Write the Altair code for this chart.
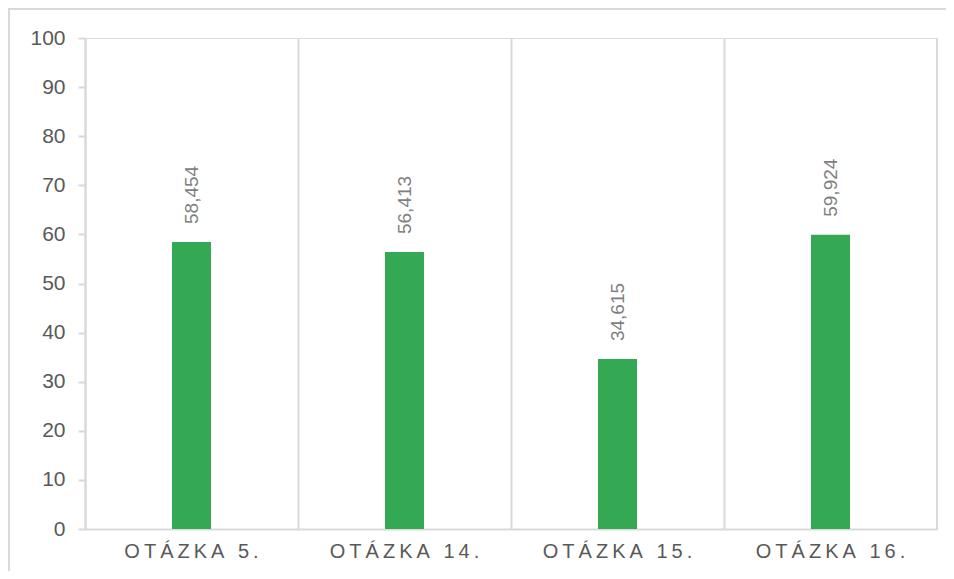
import altair as alt
import pandas as pd

categories = ["OTÁZKA 5.", "OTÁZKA 14.", "OTÁZKA 15.", "OTÁZKA 16."]
values = [58.454, 56.413, 34.615, 59.924]

df = pd.DataFrame({"category": categories, "value": values})

W, H = 852, 491
GRID = "#d9d9d9"
FONT = "Liberation Sans"

x_enc = alt.X(
    "category:N",
    sort=None,
    scale=alt.Scale(paddingInner=0, paddingOuter=0),
    axis=alt.Axis(
        title=None,
        grid=True,
        bandPosition=0,
        gridColor=GRID,
        gridWidth=2,
        ticks=False,
        domainColor=GRID,
        domainWidth=2,
        labelAngle=0,
        labelExpr="join(split(datum.label, ''), '\u2009')",
        labelFont=FONT,
        labelFontSize=20,
        labelColor="#595959",
        labelPadding=12,
    ),
)

y_scale = alt.Scale(domain=[0, 100], nice=False)

base = alt.Chart(df)

bars = base.mark_bar(size=39, color="#34a853").encode(
    x=x_enc,
    y=alt.Y(
        "value:Q",
        scale=y_scale,
        axis=alt.Axis(
            title=None,
            values=list(range(0, 101, 10)),
            grid=False,
            domainColor=GRID,
            domainWidth=2,
            tickColor=GRID,
            tickWidth=2,
            tickSize=7,
            labelFont=FONT,
            labelFontSize=21,
            labelColor="#595959",
            labelPadding=13,
        ),
    ),
)

labels = base.transform_calculate(
    label="replace(format(datum.value, '.3f'), '.', ',')"
).mark_text(
    angle=270, align="left", baseline="middle", dx=18,
    font=FONT, fontSize=19, color="#7f7f7f"
).encode(
    x=x_enc,
    y=alt.Y("value:Q", scale=y_scale),
    text="label:N",
)

right_edge = alt.Chart(df).mark_rule(color=GRID, strokeWidth=2).encode(
    x=alt.value(W), y=alt.value(0), y2=alt.value(H)
)
border_top = alt.Chart(df).mark_rule(color=GRID, strokeWidth=2).encode(
    x=alt.value(-77), x2=alt.value(W + 20), y=alt.value(-29)
)
border_left = alt.Chart(df).mark_rule(color=GRID, strokeWidth=2).encode(
    x=alt.value(-76), y=alt.value(-29), y2=alt.value(H + 50)
)

chart = alt.layer(bars, labels, right_edge, border_top, border_left).properties(
    width=W, height=H,
    autosize=alt.AutoSizeParams(type="none"),
    padding={"left": 77, "top": 30, "right": 9, "bottom": 42},
).configure_view(stroke=None).configure(background="white")

chart.save("out.html", embed_options={"renderer": "svg", "actions": False})
